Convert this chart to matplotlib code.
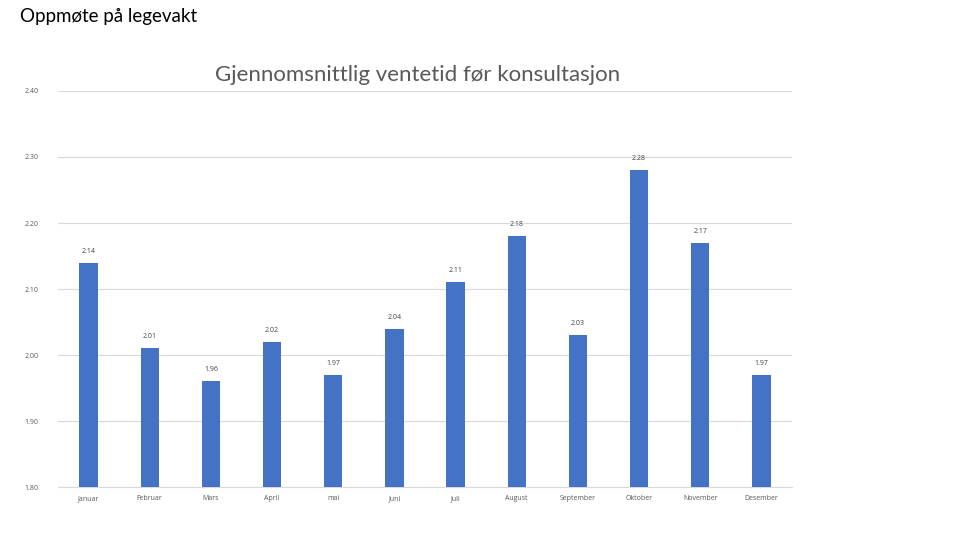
import matplotlib.pyplot as plt
import numpy as np

plt.rcParams['font.family'] = ['Lato', 'DejaVu Sans']

months = ['Januar', 'Februar', 'Mars', 'April', 'mai', 'Juni', 'Juli',
          'August', 'September', 'Oktober', 'November', 'Desember']
wait_hours = [2.14, 2.01, 1.96, 2.02, 1.97, 2.04, 2.11, 2.18, 2.03, 2.28, 2.17, 1.97]
y_ticks = [1.80, 1.90, 2.00, 2.10, 2.20, 2.30, 2.40]

BAR_COLOR = '#4472C4'
GRID_COLOR = '#D9D9D9'
TEXT_COLOR = '#595959'
SMALL_FONT = ['Open Sans', 'DejaVu Sans']

fig = plt.figure(figsize=(9.6, 5.4), dpi=100)
ax = fig.add_axes([0.0604, 0.0981, 0.7646, 0.7334])

x = np.arange(len(months))
ax.bar(x, wait_hours, width=0.3, color=BAR_COLOR, zorder=3)
for xi, v in zip(x, wait_hours):
    ax.text(xi, v + 0.012, f'{v:.2f}', ha='center', va='bottom',
            fontsize=5, color='#404040', family=SMALL_FONT)

ax.set_xlim(-0.5, len(months) - 0.5)
ax.set_ylim(1.80, 2.40)
ax.set_yticks(y_ticks)
ax.set_yticklabels([f'{t:.2f}' for t in y_ticks], family=SMALL_FONT)
ax.set_xticks(x)
ax.set_xticklabels(months, family=SMALL_FONT)
ax.tick_params(axis='both', length=0, labelsize=5, colors=TEXT_COLOR)
ax.tick_params(axis='y', pad=14)
ax.tick_params(axis='x', pad=6)
ax.grid(axis='y', color=GRID_COLOR, linewidth=0.8, zorder=0)
for side in ['top', 'right', 'left']:
    ax.spines[side].set_visible(False)
ax.spines['bottom'].set_color(GRID_COLOR)
ax.spines['bottom'].set_linewidth(0.8)

fig.text(0.4354, 0.862, 'Gjennomsnittlig ventetid før konsultasjon',
         ha='center', va='center', fontsize=16, color=TEXT_COLOR)
fig.text(0.021, 0.97, 'Oppmøte på legevakt', ha='left', va='center',
         fontsize=13.5, color='black')

fig.savefig('out.png', dpi=100)
